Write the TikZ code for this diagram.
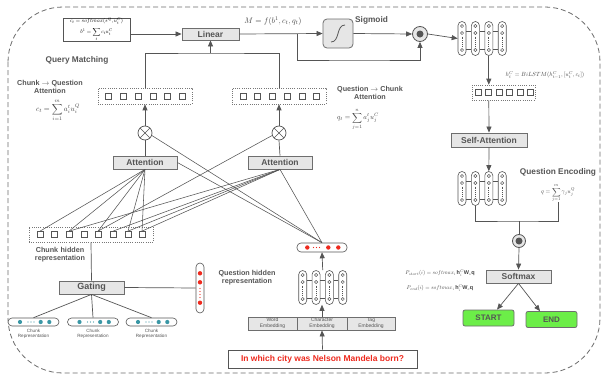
\documentclass[tikz,border=0pt]{standalone}
\usepackage{fontspec}
\usepackage{graphicx}
\setmainfont{Liberation Sans}
\usetikzlibrary{arrows.meta,calc}
\definecolor{ln}{HTML}{555555}
\definecolor{bx}{HTML}{E6E6E6}
\definecolor{txt}{HTML}{555555}
\definecolor{qred}{HTML}{EE2A1E}
\definecolor{tealc}{HTML}{3A97A5}
\definecolor{grn}{HTML}{6CEE48}
\newcommand\lstmrow[4]{%
  \foreach \i/\n in {0/a,1/b,2/c,3/d} \node[capsule] (#1\n) at ({#2+\i*#4},#3) {};
  \foreach \p/\q in {a/b,b/c,c/d} {
    \draw[conn] ($(#1\p.east)+(0,-7)$) -- ($(#1\q.west)+(0,-7)$);
    \draw[conn] ($(#1\p.east)+(0,11)$) -- ($(#1\q.west)+(0,11)$);}
}
\tikzset{
  conn/.style={draw=ln, line width=0.7pt},
  arr/.style={conn, -{Triangle[length=6pt,width=5pt]}},
  graybox/.style={draw=ln!85, fill=bx, line width=0.8pt, inner sep=0pt, text=txt,
    font=\fontsize{8.5}{10}\selectfont\bfseries},
  lab/.style={text=txt, font=\fontsize{7.2}{8.6}\selectfont\bfseries, align=center, inner sep=0pt},
  biglab/.style={text=txt, font=\fontsize{8.3}{10}\selectfont\bfseries, align=center, inner sep=0pt},
  tiny/.style={text=txt, font=\fontsize{5}{5.8}\selectfont, align=center, inner sep=0pt},
  mth/.style={text=ln!80!black, inner sep=0pt, align=center},
  dotbox/.style={draw=ln!80, line width=0.6pt, dash pattern=on 0.8pt off 1.4pt, inner sep=0pt},
  sq/.style={draw=ln, line width=0.7pt, minimum size=6pt, inner sep=0pt, fill=white},
  capsule/.style={draw=ln, fill=white, line width=0.6pt, rounded corners=4pt, minimum width=8pt,
    minimum height=34pt, inner sep=0pt,
    path picture={
      \foreach \dy in {-12.5,-5.5,11.5}
        \draw[ln, line width=0.5pt] ($(path picture bounding box.center)+(0,\dy)$) circle (1.6pt);
      \draw[ln, line width=0.9pt, dash pattern=on 0.9pt off 0.9pt] ($(path picture bounding box.center)+(0,-2)$) -- ++(0,10);
    }},
  otimesn/.style={circle, draw=ln, fill=white, line width=0.7pt, minimum size=14pt, inner sep=0pt,
    path picture={
      \draw[ln, line width=0.7pt] ($(path picture bounding box.center)+(45:7pt)$) -- ($(path picture bounding box.center)+(225:7pt)$);
      \draw[ln, line width=0.7pt] ($(path picture bounding box.center)+(135:7pt)$) -- ($(path picture bounding box.center)+(315:7pt)$);
    }},
  odotn/.style={circle, draw=ln, fill=bx, line width=0.8pt, minimum size=15pt, inner sep=0pt,
    path picture={\fill[ln] (path picture bounding box.center) circle (3.5pt);}},
  hcap/.style={draw=ln, fill=white, line width=0.6pt, rounded corners=4pt, inner sep=0pt},
  greenbox/.style={draw=ln!85, fill=grn, line width=0.8pt, rounded corners=2pt, inner sep=0pt,
    minimum width=51pt, minimum height=16pt, text=txt, font=\fontsize{8}{9}\selectfont\bfseries},
}
\begin{document}
\begin{tikzpicture}[x=1pt,y=-1pt]
\useasboundingbox (0,0) rectangle (606,375);
\fill[white] (0,0) rectangle (606,375);
% outer dashed frame
\draw[ln!85, line width=0.8pt, dash pattern=on 5pt off 3pt, rounded corners=55pt] (8,7) rectangle (600,373);

% ---------------- top row
\node[draw=ln, line width=0.8pt, fill=white, minimum width=67pt, minimum height=23pt, inner sep=0pt,
  align=center] (fbox) at (96.5,29.5)
  {\scalebox{0.55}{$c_t = softmax(s^{Q}, u_t^{C})$}\\[-1pt] \scalebox{0.55}{$\displaystyle b^1 = \sum_t c_t u_t^{C}$}};
\node[graybox, minimum width=57pt, minimum height=12pt] (lin) at (210.5,34) {Linear};
\node[mth] (mform) at (273,21) {\scalebox{0.8}{$M = f(b^1, c_t, q_t)$}};
\node[draw=ln!85, fill=bx, line width=0.8pt, rounded corners=4pt, minimum width=30pt, minimum height=29pt] (sig) at (338,33.5) {};
\draw[ln, line width=0.8pt] (331,42) .. controls (340,42) and (336,25) .. (345,25);
\node[biglab, anchor=west] (siglab) at (355,20) {Sigmoid};
\node[odotn] (od1) at (420,34) {};
\draw[arr] (fbox.east |- lin.west) -- (lin.west);
\draw[arr] (lin.east) -- (sig.west);
\draw[arr] (sig.east) -- (od1.west);
\coordinate (br) at (297,34);
\draw[arr] (br) |- (360,60) -| (od1.south);

\lstmrow{L1}{462}{38.5}{13.4}
\draw[arr] (od1.east) -- (L1a.west);
\node[mth] (bilf) at (545,75) {\scalebox{0.6}{$h_t^{C} = BiLSTM(h_{t-1}^{C}, [u_t^{C}, c_t])$}};

\node[dotbox, minimum width=63pt, minimum height=15pt] (db3) at (503.5,92.5) {};
\foreach \k/\xx in {1/478,2/488.5,3/499,4/509.5,5/520,6/530.5} \node[sq] (r\k) at (\xx,92.5) {};
\draw[arr] (L1c.south) -- (L1c.south |- db3.north);

\node[graybox, minimum width=76pt, minimum height=14pt] (sa) at (489,140) {Self-Attention};
\draw[arr] (L1c.south |- db3.south) -- (sa.north);

\lstmrow{L2}{462}{188.5}{13.4}
\draw[arr] (sa.south) -- (L2c.north);
\node[biglab] (qenc) at (558,172) {Question Encoding};
\node[mth] (qf) at (558,193) {\scalebox{0.6}{$\displaystyle q = \sum_{j=1}^{m} \gamma_j u_j^{Q}$}};
\coordinate (jn) at (519,221);
\draw[conn] (L2b.south) |- (jn) -| (qf.south);
\node[odotn, minimum size=13pt] (od2) at (519,241) {};
\draw[conn] (jn) -- (od2.north);
\node[graybox, minimum width=65pt, minimum height=13pt] (smx) at (518.5,276.5) {Softmax};
\draw[arr] (od2.south) -- (smx.north);
\node[mth] (pst) at (440,273) {\scalebox{0.55}{$P_{start}(i) = softmax_i\, \mathbf{h}_i^{C}\mathbf{W}_s\mathbf{q}$}};
\node[mth] (pen) at (440,288) {\scalebox{0.55}{$P_{end}(i) = softmax_i\, \mathbf{h}_i^{C}\mathbf{W}_e\mathbf{q}$}};
\node[greenbox] (st) at (488.5,318) {START};
\node[greenbox] (en) at (551.5,319.5) {END};
\draw[arr] (smx.south) -- ($(st.north)+(8.5,0)$);
\draw[arr] (smx.south) -- ($(en.north)+(-11.5,0)$);

% ---------------- attention part
\node[biglab] (qm) at (77,60) {Query Matching};
\node[lab] (cqa) at (50,87) {Chunk $\rightarrow$ Question\\Attention};
\node[mth] (cqf) at (58,110) {\scalebox{0.75}{$\displaystyle c_t = \sum_{i=1}^{m} a_i^t u_i^{Q}$}};
\node[lab] (qca) at (370,93) {Question $\rightarrow$ Chunk\\Attention};
\node[mth] (qcf) at (358,119) {\scalebox{0.7}{$\displaystyle q_t = \sum_{j=1}^{n} a_j^t u_j^{C}$}};

\node[dotbox, minimum width=94pt, minimum height=16pt] (db1) at (145,96) {};
\foreach \k/\xx in {1/108,2/123,3/138,4/153,5/167,6/182} \node[sq] (a\k) at (\xx,96) {};
\node[dotbox, minimum width=94pt, minimum height=16pt] (db2) at (279,96) {};
\foreach \k/\xx in {1/243,2/257,3/272,4/287,5/302,6/316} \node[sq] (b\k) at (\xx,96) {};
\coordinate (jq) at (210,53);
\draw[conn] (db1.north) |- (jq) -| (db2.north);
\draw[arr] (lin.south |- jq) -- (lin.south);

\node[otimesn] (o1) at (145,133) {};
\node[otimesn] (o2) at (279,133) {};
\draw[arr] (o1.north) -- (db1.south);
\draw[arr] (o2.north) -- (db2.south);
\node[graybox, minimum width=64pt, minimum height=13pt] (at1) at (145,162.5) {Attention};
\node[graybox, minimum width=64pt, minimum height=13pt] (at2) at (280,162.5) {Attention};
\draw[conn] (o1.south) -- (at1.north);
\draw[conn] (o2.south) -- (at2.north);

% chunk hidden
\node[dotbox, minimum width=124pt, minimum height=15pt] (chb) at (91,234.5) {};
\foreach \k/\xx in {1/40,2/54,3/69,4/84,5/98,6/113,7/128,8/142} \node[sq] (c\k) at (\xx,234.5) {};
\node[lab, text width=80pt] (chl) at (60,254.5) {Chunk hidden\\representation};

% question capsule (horizontal red)
\node[hcap, minimum width=50pt, minimum height=9pt] (qcap) at (322,247.5) {};
\foreach \dx in {-14.7,6.3,16.3} \fill[qred] ($(qcap.center)+(\dx,0)$) circle (2.2pt);
\foreach \dx in {-8.5,-5.5,-2.5} \fill[qred] ($(qcap.center)+(\dx,0)$) circle (0.7pt);

% attention connectors
\foreach \k in {1,3,5,7,8} \draw[conn, line width=0.55pt] (at1.south) -- (c\k.north);
\foreach \k in {3,6,7,8} \draw[conn, line width=0.55pt] (at2.south) -- (c\k.north);
\draw[conn, line width=0.55pt] (o2.200) -- (c5.north);
\draw[conn, line width=0.55pt] (o1.-20) -- (qcap.north);
\draw[conn, line width=0.55pt] (at1.east) -- (qcap.north);
\draw[conn, line width=0.55pt] (at2.south) -- (qcap.north);

% question side
\node[lab] (qhl) at (247,277.5) {Question hidden\\representation};
\lstmrow{L3}{302.7}{287.5}{13.35}
\draw[arr] ($(L3b.north)!0.5!(L3c.north)$) -- (qcap.south);
\node[draw=ln!85, fill=bx, line width=0.8pt, minimum width=49pt, minimum height=13pt, inner sep=0pt, tiny] (we) at (272.5,323.5) {Word\\Embedding};
\node[draw=ln!85, fill=bx, line width=0.8pt, minimum width=50pt, minimum height=13pt, inner sep=0pt, tiny] (ce) at (322,323.5) {Character\\Embedding};
\node[draw=ln!85, fill=bx, line width=0.8pt, minimum width=48pt, minimum height=13pt, inner sep=0pt, tiny] (te) at (371,323.5) {Tag\\Embedding};
\draw[arr] (ce.north) -- (ce.north |- L3a.south);
\node[draw=ln, line width=0.8pt, fill=white, minimum width=189pt, minimum height=18pt, inner sep=0pt,
  text=qred, font=\fontsize{8.5}{10}\selectfont\bfseries] (qbox) at (322.5,359) {In which city was Nelson Mandela born?};
\draw[arr] (qbox.north) -- (ce.south);

% gating
\node[graybox, minimum width=65pt, minimum height=13pt, font=\fontsize{9}{10}\selectfont\bfseries] (gate) at (91.5,287.5) {Gating};
\draw[conn] (chb.south) -- (gate.north);
\node[hcap, minimum width=8pt, minimum height=50pt] (qv) at (200,288) {};
\foreach \dy in {-14.7,-5.7,14.7} \fill[qred] ($(qv.center)+(0,\dy)$) circle (2.2pt);
\foreach \dy in {0.5,3.5,6.5,9.5} \fill[qred] ($(qv.center)+(0,\dy)$) circle (0.7pt);
\draw[conn] (gate.east) -- (qv.west);

\foreach \n/\xx in {1/33.5,2/93,3/151.5} {
  \node[hcap, minimum width=51pt, minimum height=8pt] (cc\n) at (\xx,322) {};
  \foreach \dx in {-13.5,7.2,15.8} \fill[tealc] ($(cc\n.center)+(\dx,0)$) circle (2.1pt);
  \foreach \dx in {-5.5,-2.5,0.5} \fill[tealc] ($(cc\n.center)+(\dx,0)$) circle (0.7pt);
  \node[tiny, font=\fontsize{4.6}{5.4}\selectfont] (ccl\n) at (\xx,334) {Chunk\\Representation};
  \draw[conn] (gate.south) -- (cc\n.north);
}
\end{tikzpicture}
\end{document}
